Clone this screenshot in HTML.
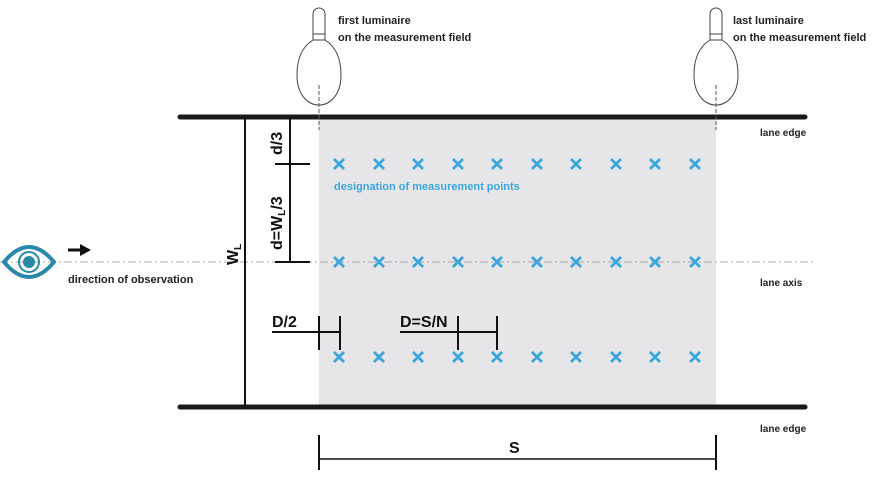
<!DOCTYPE html>
<html><head><style>body{margin:0;background:#fff}svg{display:block}text{font-family:"Liberation Sans",sans-serif}</style></head><body>
<svg width="876" height="483" viewBox="0 0 876 483">
<rect x="319" y="119" width="397" height="287" fill="#e6e6e8"/>
<line x1="0" y1="262" x2="815" y2="262" stroke="#aaa" stroke-width="1" stroke-dasharray="8,3,2,3"/>
<line x1="180" y1="117" x2="805" y2="117" stroke="#1a1a1a" stroke-width="5" stroke-linecap="round"/>
<line x1="180" y1="407" x2="805" y2="407" stroke="#1a1a1a" stroke-width="5" stroke-linecap="round"/>
<g fill="#fff" stroke="#444" stroke-width="1">
<path d="M313 40 V14 a6 6 0 0 1 12 0 V40 Z"/><line x1="313" y1="34" x2="325" y2="34"/>
<path d="M313 40 C300 48 297 62 297 75 C297 95 308 105 319 105 C330 105 341 95 341 75 C341 62 338 48 325 40 Z"/>
<path d="M710 40 V14 a6 6 0 0 1 12 0 V40 Z"/><line x1="710" y1="34" x2="722" y2="34"/>
<path d="M710 40 C697 48 694 62 694 75 C694 95 705 105 716 105 C727 105 738 95 738 75 C738 62 735 48 722 40 Z"/>
</g>
<line x1="319" y1="85" x2="319" y2="130" stroke="#555" stroke-dasharray="4,2"/>
<line x1="716" y1="85" x2="716" y2="130" stroke="#555" stroke-dasharray="4,2"/>
<g font-size="11" fill="#222" font-weight="bold">
<text x="338" y="24">first luminaire</text><text x="338" y="41">on the measurement field</text>
<text x="733" y="24">last luminaire</text><text x="733" y="41">on the measurement field</text>
<text x="760" y="136" font-size="10">lane edge</text>
<text x="760" y="286" font-size="10">lane axis</text>
<text x="760" y="432" font-size="10">lane edge</text>
<text x="68" y="283">direction of observation</text>
</g>
<path d="M4 262 Q29 232 54 262 Q29 292 4 262 Z" fill="none" stroke="#2a88a8" stroke-width="4"/>
<circle cx="29" cy="262" r="10" fill="none" stroke="#2a88a8" stroke-width="2"/>
<circle cx="29" cy="262" r="6" fill="#2a88a8"/>
<line x1="68" y1="250" x2="82" y2="250" stroke="#111" stroke-width="3"/>
<polygon points="80,244 91,250 80,256" fill="#111"/>
<g stroke="#111" stroke-width="2">
<line x1="245" y1="117" x2="245" y2="407"/>
<line x1="290" y1="117" x2="290" y2="262"/>
<line x1="275" y1="164" x2="310" y2="164"/>
<line x1="275" y1="262" x2="310" y2="262"/>
<line x1="272" y1="332" x2="340" y2="332"/>
<line x1="319" y1="316" x2="319" y2="350"/><line x1="340" y1="316" x2="340" y2="350"/>
<line x1="400" y1="332" x2="497" y2="332"/>
<line x1="458" y1="316" x2="458" y2="350"/><line x1="497" y1="316" x2="497" y2="350"/>
<line x1="319" y1="459" x2="716" y2="459" stroke-width="1.5"/>
<line x1="319" y1="435" x2="319" y2="470"/><line x1="716" y1="435" x2="716" y2="470"/>
</g>
<g font-size="16" fill="#111" font-weight="bold">
<text transform="translate(282,155) rotate(-90)">d/3</text>
<text transform="translate(282,250) rotate(-90)">d=W<tspan font-size="10" dy="3">L</tspan><tspan dy="-3">/3</tspan></text>
<text transform="translate(238,265) rotate(-90)">W<tspan font-size="10" dy="3">L</tspan></text>
<text x="272" y="327">D/2</text>
<text x="400" y="327">D=S/N</text>
<text x="509" y="453">S</text>
</g>
<text x="334" y="190" font-size="11" fill="#3ba6dc" font-weight="bold">designation of measurement points</text>
<g id="row" stroke="#3ba6dc" stroke-width="2.8">
<path d="M334 159l10 10m0-10l-10 10M374 159l10 10m0-10l-10 10M413 159l10 10m0-10l-10 10M453 159l10 10m0-10l-10 10M492 159l10 10m0-10l-10 10M532 159l10 10m0-10l-10 10M571 159l10 10m0-10l-10 10M611 159l10 10m0-10l-10 10M650 159l10 10m0-10l-10 10M690 159l10 10m0-10l-10 10"/>
</g>
<use href="#row" y="98"/>
<use href="#row" y="193"/>
</svg>
</body></html>
